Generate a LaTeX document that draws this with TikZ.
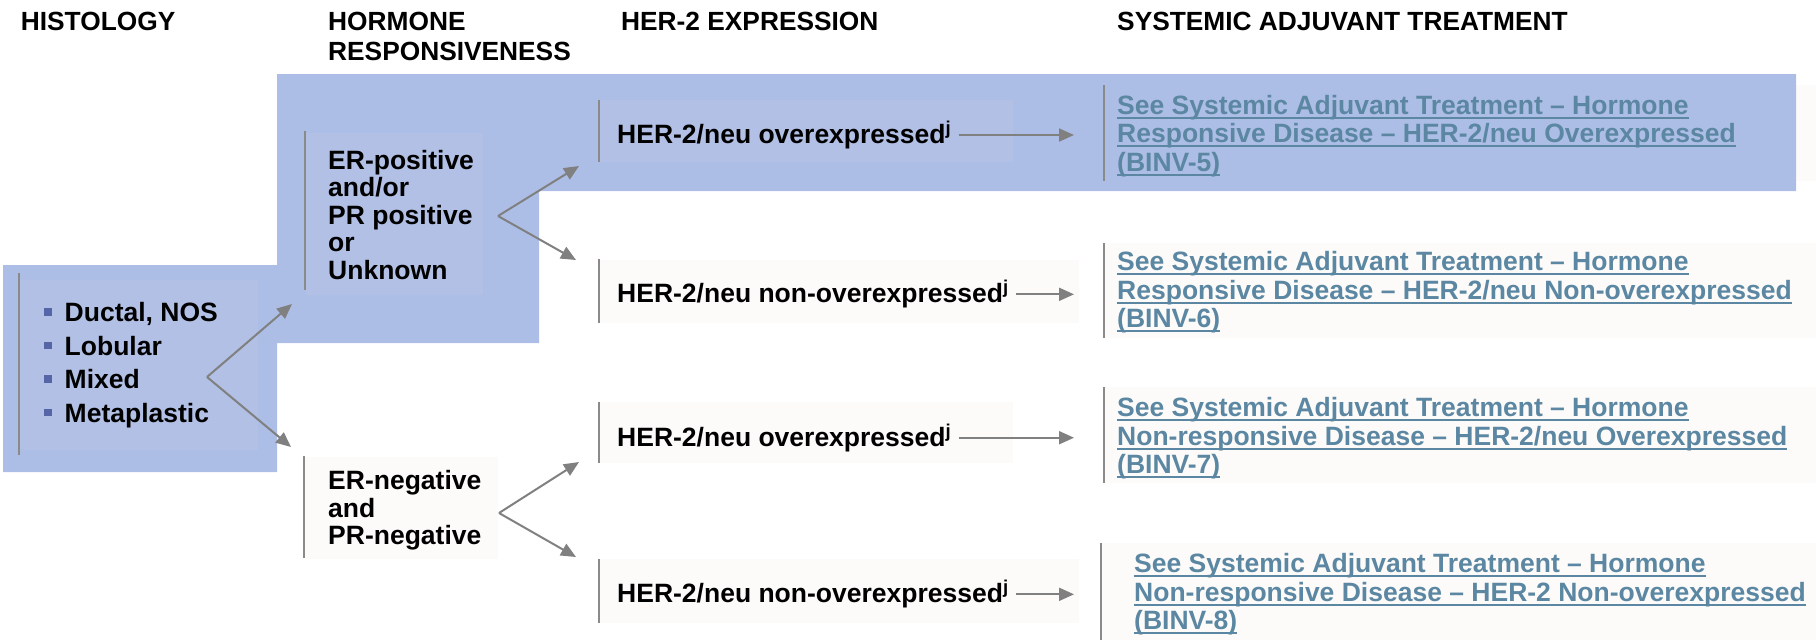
\documentclass[tikz,border=0pt]{standalone}
\usepackage{fontspec}
\setmainfont{Liberation Sans}
\usetikzlibrary{arrows.meta,calc}
\definecolor{bluebg}{RGB}{173,190,230}
\definecolor{blueinner}{RGB}{177,192,228}
\definecolor{offwhite}{RGB}{252,251,250}
\definecolor{arrgrey}{RGB}{128,128,128}
\definecolor{bargrey}{RGB}{138,138,138}
\definecolor{linkcol}{RGB}{91,135,162}
\definecolor{bulcol}{RGB}{85,101,168}
\newsavebox\ulbox
\newcommand\uln[1]{\sbox\ulbox{#1}\rlap{\rule[-4.5pt]{\wd\ulbox}{2pt}}\usebox\ulbox}
\newcommand\bul{\textcolor{bulcol}{\rule[5.8pt]{7.5pt}{7.5pt}}\hspace{13pt}}
\tikzset{
  hdr/.style={font=\bfseries\fontsize{26.3}{29.7}\selectfont, inner sep=0pt, align=left},
  body/.style={font=\bfseries\fontsize{26.5}{#1}\selectfont, inner sep=0pt, align=left},
  body/.default=27.5,
  link/.style={font=\bfseries\fontsize{26.5}{28.5}\selectfont, inner sep=0pt, align=left, text=linkcol},
  bar/.style={draw=bargrey, line width=2.5pt},
  arr/.style={draw=arrgrey, line width=2pt, -{Triangle[length=15pt,width=13pt]}},
}
\begin{document}
\begin{tikzpicture}[x=1pt,y=-1pt]
\useasboundingbox (0,0) rectangle (1820,640);
% treatment box fills (behind blue band)
\fill[offwhite] (1104,85) rectangle (1816,181);
\fill[offwhite] (1104,243) rectangle (1816,338);
\fill[offwhite] (1104,387) rectangle (1816,483);
\fill[offwhite] (1101,543) rectangle (1816,640);
% blue background shape
\fill[bluebg] (3,265) -- (277,265) -- (277,74) -- (1796,74) -- (1796,191) -- (539,191)
  -- (539,343) -- (277,343) -- (277,472) -- (3,472) -- cycle;
% inner boxes
\fill[blueinner] (19,280) rectangle (258,450);
\fill[blueinner] (306,133) rectangle (483,295);
\fill[blueinner] (599,100) rectangle (1013,162);
\fill[offwhite] (305,457) rectangle (498,559);
\fill[offwhite] (599,260) rectangle (1079,323);
\fill[offwhite] (599,402) rectangle (1013,463);
\fill[offwhite] (599,559) rectangle (1079,623);
% bars
\draw[bar] (19,273) -- (19,455);
\draw[bar] (305,131) -- (305,290);
\draw[bar] (304,456) -- (304,558);
\draw[bar] (599,100) -- (599,162);
\draw[bar] (599,259) -- (599,323);
\draw[bar] (599,402) -- (599,463);
\draw[bar] (599,559) -- (599,623);
\draw[bar] (1104,85) -- (1104,181);
\draw[bar] (1104,243) -- (1104,338);
\draw[bar] (1104,387) -- (1104,483);
\draw[bar] (1101,543) -- (1101,640);
% headers
\node[hdr, anchor=base west] (h1) at (20.7,30.8) {HISTOLOGY};
\node[hdr, anchor=west] (h2) at (328,36.2) {HORMONE\\RESPONSIVENESS};
\node[hdr, anchor=base west] (h3) at (621,30.8) {HER-2 EXPRESSION};
\node[hdr, anchor=base west] (h4) at (1117,30.8) {SYSTEMIC ADJUVANT TREATMENT};
% nodes
\node[body=33.5, anchor=west] (hist) at (44,365) {\bul Ductal, NOS\\\bul Lobular\\\bul Mixed\\\bul Metaplastic};
\node[body, anchor=west] (erpos) at (328,215) {ER-positive\\and/or\\PR positive\\or\\Unknown};
\node[body, anchor=west] (erneg) at (328,510.3) {ER-negative\\and\\PR-negative};
\node[body, anchor=base west] (her1) at (617,143.5) {HER-2/neu overexpressed\textsuperscript{j}};
\node[body, anchor=base west] (her2) at (617,302.8) {HER-2/neu non-overexpressed\textsuperscript{j}};
\node[body, anchor=base west] (her3) at (617,446.2) {HER-2/neu overexpressed\textsuperscript{j}};
\node[body, anchor=base west] (her4) at (617,602.8) {HER-2/neu non-overexpressed\textsuperscript{j}};
\node[link, anchor=west] (t1) at (1117,135.8) {\uln{See Systemic Adjuvant Treatment -- Hormone}\\\uln{Responsive Disease -- HER-2/neu Overexpressed}\\\uln{(BINV-5)}};
\node[link, anchor=west] (t2) at (1117,292.5) {\uln{See Systemic Adjuvant Treatment -- Hormone}\\\uln{Responsive Disease -- HER-2/neu Non-overexpressed}\\\uln{(BINV-6)}};
\node[link, anchor=west] (t3) at (1117,438.6) {\uln{See Systemic Adjuvant Treatment -- Hormone}\\\uln{Non-responsive Disease -- HER-2/neu Overexpressed}\\\uln{(BINV-7)}};
\node[link, anchor=west] (t4) at (1134,594.5) {\uln{See Systemic Adjuvant Treatment -- Hormone}\\\uln{Non-responsive Disease -- HER-2 Non-overexpressed}\\\uln{(BINV-8)}};
% fork points and tips
\coordinate (hfork) at (207,377);
\coordinate (hup) at (292,304);
\coordinate (hdn) at (291,447);
\coordinate (pfork) at (498,216);
\coordinate (pup) at (579,166);
\coordinate (pdn) at (576,260);
\coordinate (nfork) at (499,513);
\coordinate (nup) at (579,462);
\coordinate (ndn) at (576,557);
\draw[arr] (hfork) -- (hup);
\draw[arr] (hfork) -- (hdn);
\draw[arr] (pfork) -- (pup);
\draw[arr] (pfork) -- (pdn);
\draw[arr] (nfork) -- (nup);
\draw[arr] (nfork) -- (ndn);
\draw[arr, shorten <=7pt, shorten >=43pt] (her1.east) -- (her1.east -| t1.west);
\draw[arr, shorten <=7pt, shorten >=43pt] (her2.east) -- (her2.east -| t2.west);
\draw[arr, shorten <=7pt, shorten >=43pt] (her3.east) -- (her3.east -| t3.west);
\draw[arr, shorten <=7pt, shorten >=60pt] (her4.east) -- (her4.east -| t4.west);
\end{tikzpicture}
\end{document}
